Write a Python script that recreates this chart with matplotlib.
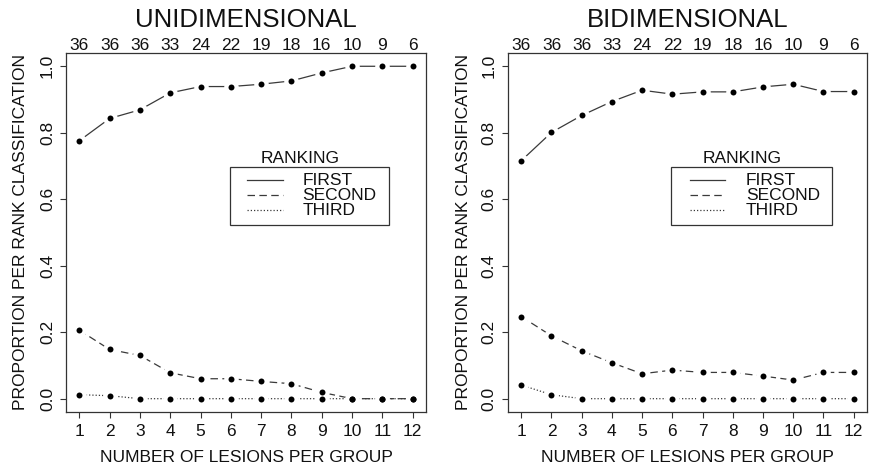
import matplotlib
matplotlib.use("Agg")
import matplotlib.pyplot as plt
from matplotlib.patches import Rectangle
from matplotlib.lines import Line2D

plt.rcParams['font.family'] = ['Liberation Sans', 'DejaVu Sans']

lesions = list(range(1, 13))
group_counts = [36, 36, 36, 33, 24, 22, 19, 18, 16, 10, 9, 6]

uni_first = [0.776, 0.843, 0.869, 0.920, 0.939, 0.939, 0.946, 0.956, 0.980, 1.000, 1.000, 1.000]
uni_second = [0.206, 0.148, 0.130, 0.078, 0.060, 0.060, 0.052, 0.045, 0.019, 0.0, 0.0, 0.0]
uni_third = [0.012, 0.009, 0.0, 0.0, 0.0, 0.0, 0.0, 0.0, 0.0, 0.0, 0.0, 0.0]

bi_first = [0.716, 0.801, 0.852, 0.894, 0.928, 0.916, 0.923, 0.923, 0.938, 0.946, 0.924, 0.924]
bi_second = [0.247, 0.189, 0.144, 0.108, 0.075, 0.086, 0.079, 0.079, 0.068, 0.056, 0.079, 0.079]
bi_third = [0.041, 0.012, 0.0, 0.0, 0.0, 0.0, 0.0, 0.0, 0.0, 0.0, 0.0, 0.0]

rank_labels = ["FIRST", "SECOND", "THIRD"]
panel_titles = ["UNIDIMENSIONAL", "BIDIMENSIONAL"]
y_ticks = [0.0, 0.2, 0.4, 0.6, 0.8, 1.0]

LINE_COLOR = "#3a3a3a"
TEXT_COLOR = "#111111"
STYLES = [dict(linestyle="-"),
          dict(linestyle=(0, (6, 3.5))),
          dict(linestyle=(0, (1, 1.6)))]

fig = plt.figure(figsize=(8.74, 4.68), dpi=100)
ax_pos = [[0.0755, 0.1197, 0.4119, 0.7671],
          [0.5812, 0.1197, 0.4108, 0.7671]]
panels = [(uni_first, uni_second, uni_third), (bi_first, bi_second, bi_third)]
legend_geo = [dict(box=(0.456, 0.521, 0.441, 0.161), l0=0.503, l1=0.603, tx=0.656, title_x=0.65),
              dict(box=(0.454, 0.521, 0.449, 0.161), l0=0.507, l1=0.604, tx=0.663, title_x=0.652)]

for i, (series, title) in enumerate(zip(panels, panel_titles)):
    ax = fig.add_axes(ax_pos[i])
    # lines first, then a white halo and a black dot at each point (type "b" look)
    for s, st in zip(series, STYLES):
        ax.plot(lesions, s, color=LINE_COLOR, lw=0.9, zorder=2, **st)
    for s in series:
        ax.plot(lesions, s, "o", color="white", ms=10.5, mew=0, zorder=3)
    for s in series:
        ax.plot(lesions, s, "o", color="black", ms=4.3, mew=0, zorder=4)

    ax.set_xlim(0.56, 12.44)
    ax.set_ylim(-0.04, 1.04)
    ax.set_xticks(lesions)
    ax.set_xticklabels([str(v) for v in lesions])
    ax.set_yticks(y_ticks)
    ax.set_yticklabels([f"{v:.1f}" for v in y_ticks])
    ax.tick_params(axis="both", direction="out", length=4, width=0.8,
                   labelsize=12.5, color="#333333", labelcolor=TEXT_COLOR)
    ax.tick_params(axis="x", pad=5)
    ax.tick_params(axis="y", pad=4)
    for lab in ax.get_yticklabels():
        lab.set_rotation(90)
        lab.set_va("center")
        lab.set_ha("right")
    for sp in ax.spines.values():
        sp.set_linewidth(0.9)
        sp.set_color("#333333")

    top = ax.secondary_xaxis("top")
    top.set_xticks(lesions)
    top.set_xticklabels([str(c) for c in group_counts])
    top.tick_params(length=0, pad=0, labelsize=12.5, labelcolor=TEXT_COLOR)
    top.spines["top"].set_visible(False)

    ax.text(0.5, 1.092, title, transform=ax.transAxes, ha="center", va="center",
            fontsize=18.5, color=TEXT_COLOR)
    ax.text(-0.125, 0.5, "PROPORTION PER RANK CLASSIFICATION", transform=ax.transAxes,
            rotation=90, ha="center", va="center", fontsize=12.5, color=TEXT_COLOR)
    ax.text(0.5, -0.128, "NUMBER OF LESIONS PER GROUP", transform=ax.transAxes,
            ha="center", va="center", fontsize=12.5, color=TEXT_COLOR)

    g = legend_geo[i]
    bx, by, bw, bh = g["box"]
    ax.add_patch(Rectangle((bx, by), bw, bh, transform=ax.transAxes, fill=False,
                           lw=0.9, edgecolor="#333333", zorder=5))
    ax.text(g["title_x"], 0.705, "RANKING", transform=ax.transAxes,
            ha="center", va="center", fontsize=12.5, color=TEXT_COLOR)
    for row, (lab, st) in enumerate(zip(rank_labels, STYLES)):
        yy = 0.646 - row * 0.042
        ax.add_line(Line2D([g["l0"], g["l1"]], [yy, yy], transform=ax.transAxes,
                           color=LINE_COLOR, lw=0.9, **st))
        ax.text(g["tx"], yy, lab, transform=ax.transAxes, ha="left", va="center",
                fontsize=12.5, color=TEXT_COLOR)

fig.savefig("out.png", dpi=100)
